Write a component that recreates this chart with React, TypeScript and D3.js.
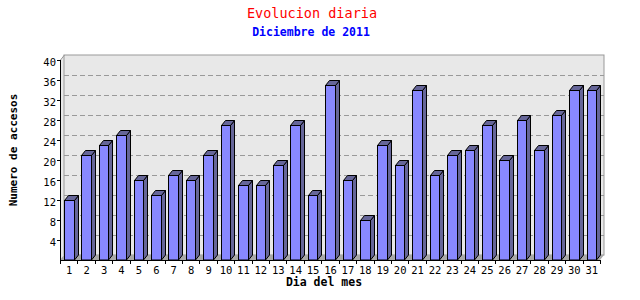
import React from "react";
import * as d3 from "d3";

const days: string[] = Array.from({ length: 31 }, (_, i) => String(i + 1));
const visits: number[] = [12, 21, 23, 25, 16, 13, 17, 16, 21, 27, 15, 15, 19, 27, 13, 35, 16, 8, 23, 19, 34, 17, 21, 22, 27, 20, 28, 22, 29, 34, 34];
const yTicks: number[] = [4, 8, 12, 16, 20, 24, 28, 32, 36, 40];
const title = "Evolucion diaria";
const subtitle = "Diciembre de 2011";
const xTitle = "Dia del mes";
const yTitle = "Numero de accesos";

const W = 640, H = 300;
const L = 60, R = 600, T = 60, B = 260;
const DX = 4, DY = -5;
const mono = "'DejaVu Sans Mono', 'Liberation Mono', monospace";

export default function App() {
  const x = d3.scaleBand<string>().domain(days).range([L, R]).paddingInner(0).paddingOuter(0);
  const y = d3.scaleLinear().domain([0, 40]).range([B, T]);
  const bw = x.bandwidth() * 0.55;
  const bounds = d3.range(days.length + 1).map((i) => L + i * x.step());

  return (
    <svg width={W} height={H} style={{ position: "absolute", left: 0, top: 0, background: "#fff" }}>
      {/* left side strip */}
      <polygon points={`${L},${T} ${L + DX},${T + DY} ${L + DX},${B + DY} ${L},${B}`} fill="#e8e8e8" />
      {/* back wall */}
      <rect x={L + DX} y={T + DY} width={R - L} height={B - T} fill="#e8e8e8" stroke="#999" strokeWidth={1} />
      {/* floor */}
      <polygon points={`${L},${B} ${R},${B} ${R + DX},${B + DY} ${L + DX},${B + DY}`} fill="#a8a8a8" />
      {/* grid */}
      {yTicks.filter((v) => v < 40).map((v) => (
        <line key={"g" + v} x1={L + DX} x2={R + DX} y1={y(v) + DY + 0.5} y2={y(v) + DY + 0.5} stroke="#999" strokeDasharray="5,3" />
      ))}
      <line x1={L + 0.5} y1={T} x2={L + DX + 0.5} y2={T + DY} stroke="#999" />
      {/* bars */}
      {days.map((d, i) => {
        const v = visits[i];
        const cx = (x(d) as number) + x.bandwidth() / 2;
        const x0 = Math.round(cx - bw / 2) + 0.5;
        const x1 = Math.round(cx + bw / 2) + 0.5;
        const yt = Math.round(y(v)) + 0.5;
        return (
          <g key={d} stroke="#000" strokeWidth={1} strokeLinejoin="miter">
            <polygon points={`${x1},${yt} ${x1 + DX},${yt + DY} ${x1 + DX},${B + DY} ${x1},${B}`} fill="#666699" />
            <polygon points={`${x0},${yt} ${x0 + DX},${yt + DY} ${x1 + DX},${yt + DY} ${x1},${yt}`} fill="#666699" />
            <rect x={x0} y={yt} width={x1 - x0} height={B - yt} fill="#8888ff" />
          </g>
        );
      })}
      {/* axes */}
      <line x1={L + 0.5} y1={T} x2={L + 0.5} y2={B + 0.5} stroke="#000" />
      <line x1={L} y1={B + 0.5} x2={R + 1} y2={B + 0.5} stroke="#000" />
      {yTicks.map((v) => (
        <g key={"y" + v}>
          <line x1={L - 3} x2={L} y1={Math.round(y(v)) + 0.5} y2={Math.round(y(v)) + 0.5} stroke="#000" />
          <text x={L - 4} y={y(v) + 6} fontFamily={mono} fontSize={10.5} textAnchor="end" fill="#000">{v}</text>
        </g>
      ))}
      {bounds.map((bx, i) => (
        <line key={"xt" + i} x1={Math.round(bx) + 0.5} x2={Math.round(bx) + 0.5} y1={B} y2={B + 4} stroke="#000" />
      ))}
      {days.map((d) => (
        <text key={"xl" + d} x={(x(d) as number) + x.bandwidth() / 2 + 0.5} y={274} fontFamily={mono} fontSize={10.5} textAnchor="middle" fill="#000">{d}</text>
      ))}
      {/* titles */}
      <text x={312} y={18} fontFamily={mono} fontSize={13.5} textAnchor="middle" fill="#ff0000">{title}</text>
      <text x={311} y={36} fontFamily={mono} fontSize={11.5} fontWeight="bold" textAnchor="middle" fill="#0000ff">{subtitle}</text>
      <text x={324} y={286} fontFamily={mono} fontSize={11.5} fontWeight="bold" textAnchor="middle" fill="#000">{xTitle}</text>
      <text transform={`translate(17,150) rotate(-90)`} fontFamily={mono} fontSize={11} fontWeight="bold" textAnchor="middle" fill="#000">{yTitle}</text>
    </svg>
  );
}
